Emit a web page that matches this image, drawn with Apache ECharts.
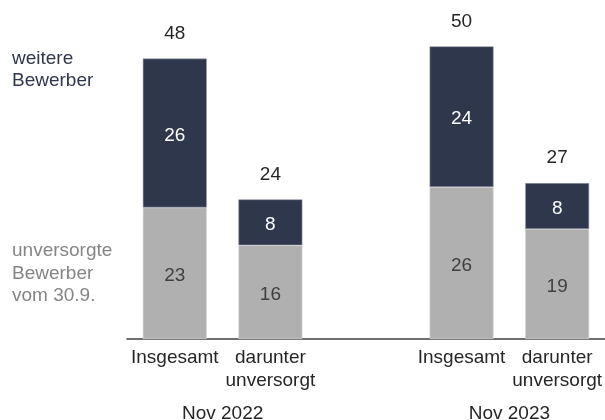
<!DOCTYPE html>
<html><head><meta charset="utf-8">
<script src="https://cdn.jsdelivr.net/npm/echarts@6/dist/echarts.min.js"></script>
<style>html,body{margin:0;padding:0;background:#fff}#c{width:605px;height:420px}</style>
</head><body><div id="c"></div>
<script>
const categories = ['Insgesamt', 'darunter\nunversorgt', '', 'Insgesamt', 'darunter\nunversorgt'];
const groups = ['Nov 2022', 'Nov 2023'];
const unversorgt = [22.6, 16.1, 26.1, 18.9];
const weitere = [25.6, 7.9, 24.2, 7.9];
const totals = [48, 24, 50, 27];
const seriesNames = ['unversorgte\nBewerber\nvom 30.9.', 'weitere\nBewerber'];

const slot = (arr) => [arr[0], arr[1], null, arr[2], arr[3]];
const FONT = 'Liberation Sans, Arial, sans-serif';
const chart = echarts.init(document.getElementById('c'), null, {renderer: 'canvas'});
const yMax = 55;
chart.setOption({
  animation: false,
  grid: {left: 127, top: 19, width: 478.5, bottom: 81, containLabel: false},
  xAxis: {
    type: 'category', data: categories,
    axisLine: {lineStyle: {color: '#404040', width: 1.5}},
    axisTick: {show: false},
    axisLabel: {color: '#262626', fontSize: 19, fontFamily: FONT, lineHeight: 23, margin: 7, interval: 0}
  },
  yAxis: {type: 'value', min: 0, max: yMax, show: false, splitLine: {show: false}},
  series: [
    {
      name: seriesNames[0], type: 'bar', stack: 's', barWidth: 64,
      data: slot(unversorgt),
      itemStyle: {color: '#b0b0b0', borderColor: '#d8d8d8', borderWidth: 0.6},
      label: {show: true, position: 'inside', offset: [0, 2.5], color: '#404040', fontSize: 19, fontFamily: FONT,
        formatter: p => Math.round(p.value)}
    },
    {
      name: seriesNames[1], type: 'bar', stack: 's', barWidth: 64,
      data: slot(weitere),
      itemStyle: {color: '#2f374c', borderColor: '#9aa0ab', borderWidth: 0.6},
      label: {show: true, position: 'inside', offset: [0, 2.5], color: '#ffffff', fontSize: 19, fontFamily: FONT,
        formatter: p => Math.round(p.value)}
    },
    {
      type: 'bar', stack: 's', barWidth: 64,
      data: slot(totals).map(v => v == null ? null : 0),
      itemStyle: {color: 'transparent'},
      label: {show: true, position: 'top', distance: 15.5, color: '#262626', fontSize: 19, fontFamily: FONT,
        formatter: p => { const t = slot(totals)[p.dataIndex]; return t == null ? '' : String(t); }}
    }
  ]
});

function placeGraphics() {
  const px = i => chart.convertToPixel({xAxisIndex: 0}, i);
  const g1 = (px(0) + px(1)) / 2, g2 = (px(3) + px(4)) / 2;
  chart.setOption({graphic: [
    {type: 'text', left: 12, top: 48, style: {text: seriesNames[1], fill: '#2f374c', font: '19px ' + FONT, lineHeight: 22}},
    {type: 'text', left: 12, top: 240, style: {text: seriesNames[0], fill: '#858585', font: '19px ' + FONT, lineHeight: 22.5}},
    {type: 'text', x: g1, y: 414, style: {text: groups[0], fill: '#262626', font: '19px ' + FONT, textAlign: 'center', textVerticalAlign: 'middle'}},
    {type: 'text', x: g2, y: 414, style: {text: groups[1], fill: '#262626', font: '19px ' + FONT, textAlign: 'center', textVerticalAlign: 'middle'}}
  ]});
}
placeGraphics();
</script></body></html>
